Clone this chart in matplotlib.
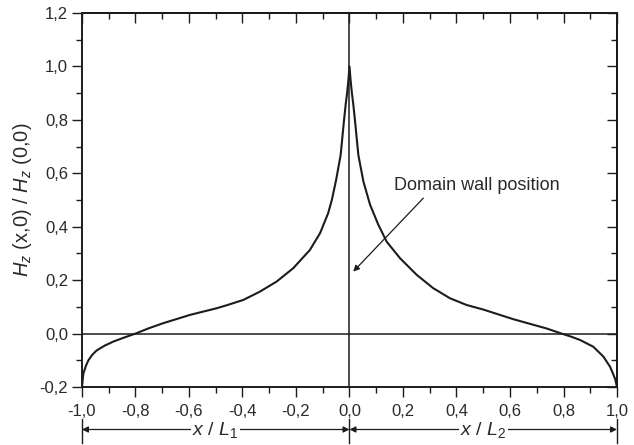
import numpy as np
import matplotlib
matplotlib.use("Agg")
import matplotlib.pyplot as plt
import matplotlib.transforms as mtransforms
from matplotlib.ticker import MultipleLocator, FuncFormatter

plt.rcParams['font.family'] = ['Liberation Sans', 'DejaVu Sans']
plt.rcParams['mathtext.fontset'] = 'custom'
plt.rcParams['mathtext.rm'] = 'Liberation Sans'
plt.rcParams['mathtext.it'] = 'Liberation Sans:italic'

# field profile, left half (x/L1) and right half (x/L2)
x_left = [-1.0, -0.995, -0.985, -0.976, -0.962, -0.945, -0.915, -0.883, -0.84, -0.80,
          -0.75, -0.696, -0.596, -0.496, -0.459, -0.397, -0.335, -0.272, -0.21,
          -0.148, -0.11, -0.08, -0.066, -0.05, -0.033, -0.021, -0.014, -0.009,
          -0.004, 0.0]
h_left = [-0.20, -0.15, -0.12, -0.10, -0.08, -0.063, -0.045, -0.03, -0.014, 0.0,
          0.02, 0.039, 0.07, 0.095, 0.106, 0.126, 0.157, 0.195, 0.245,
          0.313, 0.376, 0.45, 0.50, 0.575, 0.669, 0.793, 0.86, 0.90,
          0.95, 1.0]

x_right = [0.0, 0.004, 0.009, 0.014, 0.021, 0.033, 0.052, 0.077, 0.108, 0.139,
           0.189, 0.251, 0.313, 0.376, 0.438, 0.5, 0.612, 0.737, 0.793,
           0.83, 0.862, 0.911, 0.949, 0.974, 0.985, 0.993, 1.0]
h_right = [1.0, 0.95, 0.90, 0.86, 0.793, 0.669, 0.569, 0.482, 0.407, 0.344,
           0.282, 0.220, 0.170, 0.132, 0.107, 0.09, 0.054, 0.019, 0.0,
           -0.012, -0.024, -0.049, -0.086, -0.124, -0.15, -0.17, -0.2]

ink = '#1c1c1c'
txt = '#2a2a2a'

fig = plt.figure(figsize=(6.34, 4.45), dpi=100)
ax = fig.add_axes([0.1293, 0.1303, 0.8439, 0.8405])

ax.plot(x_left + x_right[1:], h_left + h_right[1:], color=ink, lw=1.5)
ax.axhline(0, color=ink, lw=1.1)
ax.axvline(0, color=ink, lw=1.1)

ax.set_xlim(-1, 1)
ax.set_ylim(-0.2, 1.2)
comma = FuncFormatter(lambda v, p: ('%.1f' % v).replace('.', ',').replace('-0,0', '0,0'))
ax.xaxis.set_major_locator(MultipleLocator(0.2))
ax.xaxis.set_minor_locator(MultipleLocator(0.1))
ax.yaxis.set_major_locator(MultipleLocator(0.2))
ax.yaxis.set_minor_locator(MultipleLocator(0.1))
ax.xaxis.set_major_formatter(comma)
ax.yaxis.set_major_formatter(comma)
ax.tick_params(which='both', direction='out', width=1.0, color=ink,
               labelsize=12, labelcolor=txt)
ax.tick_params(which='major', length=7)
ax.tick_params(which='minor', length=4)
ax.tick_params(axis='x', pad=5)
ax.tick_params(axis='y', pad=3)
for s in ax.spines.values():
    s.set_linewidth(1.4)
    s.set_color(ink)

# top and right ticks point inwards
top = ax.secondary_xaxis('top')
top.xaxis.set_major_locator(MultipleLocator(0.2))
top.xaxis.set_minor_locator(MultipleLocator(0.1))
top.tick_params(which='both', direction='in', labeltop=False, width=1.0, color=ink)
top.tick_params(which='major', length=7)
top.tick_params(which='minor', length=4)
top.spines['top'].set_linewidth(1.4)
right = ax.secondary_yaxis('right')
right.yaxis.set_major_locator(MultipleLocator(0.2))
right.yaxis.set_minor_locator(MultipleLocator(0.1))
right.tick_params(which='both', direction='in', labelright=False, width=1.0, color=ink)
right.tick_params(which='major', length=7)
right.tick_params(which='minor', length=4)
right.spines['right'].set_linewidth(1.4)

ax.set_ylabel(r'$H_z$ (x,0) / $H_z$ (0,0)', fontsize=14.5, color=txt, labelpad=4)

ax.annotate('', xy=(0.014, 0.232), xytext=(0.276, 0.507),
            arrowprops=dict(arrowstyle='-|>', color=ink, lw=0.9,
                            mutation_scale=9, shrinkA=0, shrinkB=0))
ax.text(0.475, 0.556, 'Domain wall position', fontsize=13, color=txt,
        ha='center', va='center')

# span markers below the axis
trans = mtransforms.blended_transform_factory(ax.transData, fig.transFigure)
for xb in (-1, 0, 1):
    ax.plot([xb, xb], [1 - 419 / 445, 1 - 443 / 445], transform=trans,
            color=ink, lw=1.0, clip_on=False)
ya = 1 - 429.5 / 445
for x0, x1, lab in ((-1, 0, r'$x$ / $L_1$'), (0, 1, r'$x$ / $L_2$')):
    ax.annotate('', xy=(x0, ya), xytext=(x1, ya), xycoords=trans, textcoords=trans,
                arrowprops=dict(arrowstyle='<|-|>', color=ink, lw=0.9,
                                mutation_scale=9, shrinkA=0, shrinkB=0))
    ax.text((x0 + x1) / 2, ya, lab, transform=trans, fontsize=14, color=txt,
            ha='center', va='center',
            bbox=dict(facecolor='white', edgecolor='none', pad=1))

fig.savefig('out.png', dpi=100)
